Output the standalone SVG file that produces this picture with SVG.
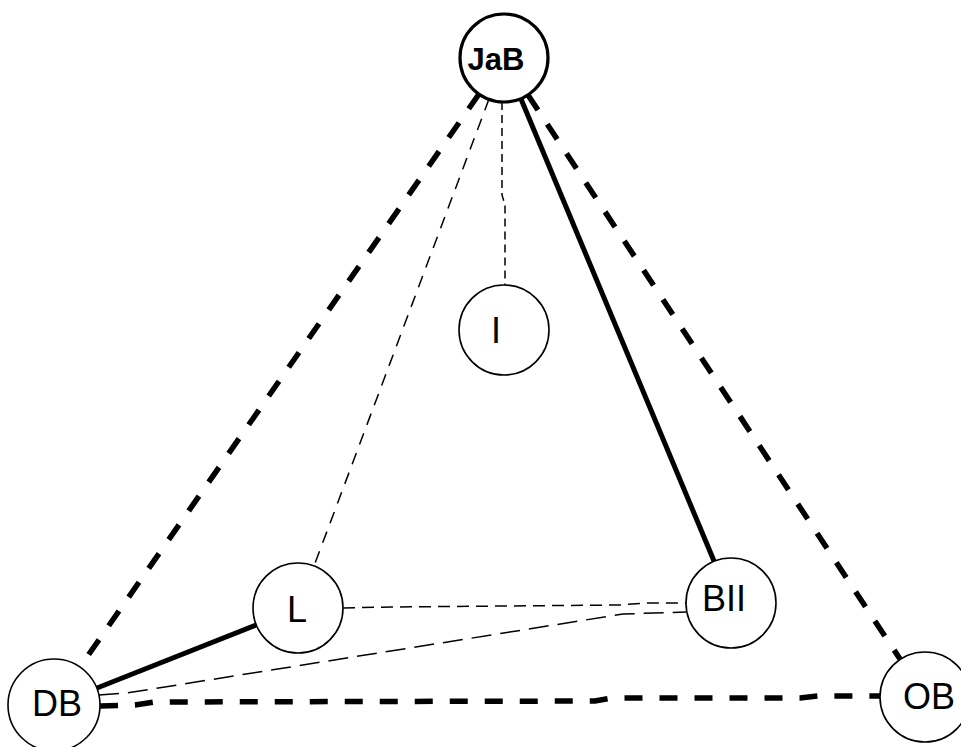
<svg xmlns="http://www.w3.org/2000/svg" width="961" height="747" viewBox="0 0 961 747">
<style>
.node circle{fill:#fff;stroke:#000;stroke-width:1.6}
.node text{font-family:"Liberation Sans",Arial,sans-serif;font-size:36px;text-anchor:middle;fill:#000}
#n-JaB circle{stroke-width:3.2}
#n-JaB text{font-weight:bold;font-size:31px}
.e{fill:none;stroke:#000}
.thick{stroke-width:5.5;stroke-dasharray:18 17}
.solid{stroke-width:5}
.thin{stroke-width:1.5}
</style>
<rect width="961" height="747" fill="#fff"/>
<g id="connectors">
<path class="e thick" d="M479,94 L80,667"/>
<path class="e thick" d="M528,95 L900,659"/>
<path class="e solid" d="M521,99 L714,561"/>
<path class="e thin" style="stroke-dasharray:8 5" d="M502,102 L502,195 L505,205 L505,285"/>
<path class="e thin" style="stroke-dasharray:12 9" d="M489,99 L314,566"/>
<path class="e thin" style="stroke-dasharray:12 7" d="M343,608 L392,607 L620,605 L645,603 L686,603"/>
<path class="e thin" style="stroke-dasharray:20 9" d="M99,695 L127,693 L623,614 L686,612"/>
<path class="e solid" d="M97,688 L256,625"/>
<path class="e thick" d="M100,706 L135,705 L155,702 L595,701 L612,698 L800,698 L818,696 L880,696"/>
</g>
<g id="n-JaB" class="node"><circle cx="504" cy="58" r="44"/><text x="496" y="70">JaB</text></g>
<g id="n-I" class="node"><circle cx="504" cy="330" r="45"/><text x="496" y="343">I</text></g>
<g id="n-L" class="node"><circle cx="298" cy="608" r="45"/><text x="297" y="622">L</text></g>
<g id="n-BII" class="node"><circle cx="731" cy="603" r="45"/><text x="724" y="611">BII</text></g>
<g id="n-DB" class="node"><circle cx="54" cy="705" r="46"/><text x="57" y="716">DB</text></g>
<g id="n-OB" class="node"><circle cx="925" cy="697" r="45"/><text x="929" y="709">OB</text></g>
</svg>
